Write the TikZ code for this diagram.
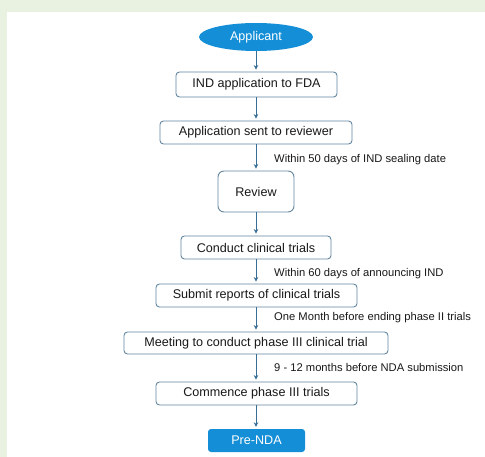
\documentclass[tikz,border=0pt]{standalone}
\usepackage{fontspec}
\setmainfont{Liberation Sans}
\usetikzlibrary{shapes.geometric,arrows.meta}
\definecolor{bgGreen}{RGB}{233,242,224}
\definecolor{nodeBlue}{RGB}{20,142,214}
\definecolor{edgeGray}{RGB}{100,135,160}
\definecolor{arrowBlue}{RGB}{55,110,150}
\definecolor{txt}{RGB}{25,25,25}
\tikzset{
  procbox/.style={draw=edgeGray, line width=0.9pt, rounded corners=3.5pt, fill=white,
    inner sep=0pt, align=center, font=\fontsize{12.6}{14}\selectfont, text=txt},
  startnode/.style={ellipse, fill=nodeBlue, draw=none, inner sep=0pt,
    minimum width=114pt, minimum height=28pt, text=white, font=\fontsize{12.6}{14}\selectfont},
  endbox/.style={rectangle, rounded corners=3pt, fill=nodeBlue, draw=none, inner sep=0pt,
    minimum width=97pt, minimum height=23pt, text=white, font=\fontsize{12.6}{14}\selectfont},
  flow/.style={draw=arrowBlue, line width=1pt, shorten >=2pt, -{Stealth[length=4.5pt,width=4.5pt]}},
  note/.style={anchor=west, inner sep=0pt, font=\fontsize{11.2}{13}\selectfont, text=txt}
}
\begin{document}
\begin{tikzpicture}[x=1pt,y=-1pt]
\useasboundingbox (0,0) rectangle (485,457);
\fill[bgGreen] (0,0) rectangle (485,457);
\fill[white] (7,12) rectangle (485,457);

\node[startnode] (app) at (256,37) {Applicant};
\node[procbox, minimum width=161pt, minimum height=25pt] (ind) at (256.5,84.5) {IND application to FDA};
\node[procbox, minimum width=192pt, minimum height=23pt] (sent) at (256,132.5) {Application sent to reviewer};
\node[procbox, minimum width=76pt, minimum height=41pt, rounded corners=6pt] (rev) at (256,191.5) {Review};
\node[procbox, minimum width=150pt, minimum height=23pt] (cond) at (256,247.5) {Conduct clinical trials};
\node[procbox, minimum width=201pt, minimum height=23pt] (sub) at (256.5,295.5) {Submit reports of clinical trials};
\node[procbox, minimum width=264pt, minimum height=22pt] (meet) at (256,343) {Meeting to conduct phase III clinical trial};
\node[procbox, minimum width=201pt, minimum height=23pt] (comm) at (256.5,393.5) {Commence phase III trials};
\node[endbox] (pre) at (256.5,440.5) {Pre-NDA};

\draw[flow] (app.south) -- (app.south |- ind.north);
\draw[flow] (ind.south -| app.south) -- (app.south |- sent.north);
\draw[flow] (sent.south -| app.south) -- (app.south |- rev.north);
\draw[flow] (rev.south -| app.south) -- (app.south |- cond.north);
\draw[flow] (cond.south -| app.south) -- (app.south |- sub.north);
\draw[flow] (sub.south -| app.south) -- (app.south |- meet.north);
\draw[flow] (meet.south -| app.south) -- (app.south |- comm.north);
\draw[flow] (comm.south -| app.south) -- (app.south |- pre.north);

\node[note] (n1) at (274,160) {Within 50 days of IND sealing date};
\node[note] (n2) at (274,274) {Within 60 days of announcing IND};
\node[note] (n3) at (274,318) {One Month before ending phase II trials};
\node[note] (n4) at (274,367) {9 - 12 months before NDA submission};
\end{tikzpicture}
\end{document}
